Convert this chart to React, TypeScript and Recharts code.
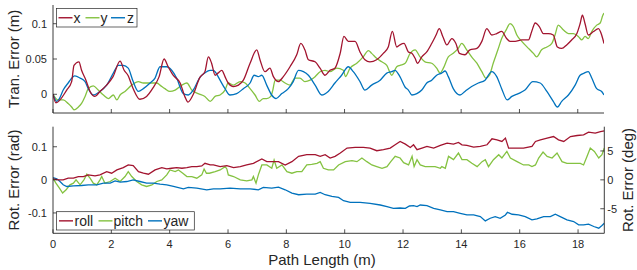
import React from 'react';
import { LineChart, Line, XAxis, YAxis } from 'recharts';

// ---------- axis ticks ----------
const pathTicks = [0, 2, 4, 6, 8, 10, 12, 14, 16, 18];
const tranTicks = [0, 0.05, 0.1];
const rotRadTicks = [-0.1, 0, 0.1];
const rotDegTicks = [-5, 0, 5];

// ---------- series: [path length (m), value] ----------
const tranX: [number, number][] = [
  [0, 0], [0.10, -0.012], [0.47, 0.006], [0.64, 0.018], [0.72, 0.041], [0.89, 0.046], [0.98, 0.034], [1.13, 0.020], [1.27, 0.004], [1.44, -0.003], [1.61, 0.004], [1.84, 0.013], [2.06, 0.025], [2.30, 0.047], [2.44, 0.034], [2.57, 0.027], [2.74, 0.009], [2.98, -0.007], [3.21, -0.003], [3.43, 0.009], [3.64, 0.025], [3.81, 0.050], [3.95, 0.039], [4.12, 0.027], [4.36, 0.016], [4.53, -0.004], [4.63, -0.011], [4.80, -0.001], [5.04, 0.024], [5.21, 0.032], [5.33, 0.053], [5.44, 0.044], [5.56, 0.027], [5.66, 0.030], [5.79, 0.034], [5.90, 0.025], [6.01, 0.016], [6.19, 0.011], [6.36, 0.013], [6.53, 0.020], [6.76, 0.044], [6.99, 0.063], [7.10, 0.049], [7.27, 0.032], [7.44, 0.037], [7.56, 0.025], [7.73, 0.018], [7.90, 0.025], [8.13, 0.039], [8.36, 0.056], [8.50, 0.072], [8.64, 0.063], [8.76, 0.049], [8.99, 0.046], [9.16, 0.037], [9.33, 0.027], [9.50, 0.034], [9.67, 0.037], [9.85, 0.058], [9.98, 0.082], [10.13, 0.075], [10.36, 0.075], [10.53, 0.060], [10.70, 0.049], [10.87, 0.046], [11.10, 0.049], [11.33, 0.058], [11.50, 0.067], [11.64, 0.089], [11.79, 0.067], [11.90, 0.070], [12.04, 0.072], [12.19, 0.060], [12.31, 0.058], [12.42, 0.051], [12.50, 0.044], [12.65, 0.053], [12.82, 0.060], [12.99, 0.072], [13.14, 0.084], [13.25, 0.093], [13.37, 0.082], [13.51, 0.070], [13.68, 0.079], [13.82, 0.072], [13.94, 0.058], [14.13, 0.056], [14.30, 0.063], [14.54, 0.065], [14.71, 0.075], [14.88, 0.093], [15.05, 0.084], [15.22, 0.086], [15.39, 0.089], [15.56, 0.079], [15.68, 0.075], [15.85, 0.075], [16.08, 0.077], [16.31, 0.077], [16.42, 0.089], [16.54, 0.101], [16.68, 0.096], [16.82, 0.086], [16.99, 0.086], [17.16, 0.084], [17.30, 0.067], [17.45, 0.065], [17.62, 0.070], [17.79, 0.077], [17.97, 0.086], [18.08, 0.100], [18.16, 0.112], [18.25, 0.100], [18.36, 0.084], [18.54, 0.089], [18.71, 0.093], [18.82, 0.084], [18.90, 0.072],
];

const tranY: [number, number][] = [
  [0, 0], [0.17, -0.008], [0.35, -0.008], [0.52, -0.013], [0.64, -0.018], [0.72, -0.022], [0.87, -0.018], [0.98, -0.013], [1.10, -0.003], [1.21, 0.008], [1.38, 0.012], [1.55, 0.006], [1.73, -0.001], [1.90, -0.006], [2.07, -0.001], [2.19, -0.008], [2.30, -0.001], [2.47, 0.004], [2.70, 0.013], [2.93, 0.018], [3.10, 0.016], [3.33, 0.016], [3.56, 0.016], [3.67, 0.013], [3.84, 0.008], [4.01, 0.004], [4.19, 0.006], [4.42, 0.013], [4.59, 0.016], [4.76, 0.006], [4.98, 0.001], [5.21, -0.003], [5.39, -0.010], [5.56, -0.003], [5.73, -0.001], [5.90, 0.006], [6.01, 0.016], [6.19, 0.013], [6.42, 0.018], [6.59, 0.016], [6.76, 0.008], [6.93, -0.001], [7.08, -0.010], [7.21, -0.006], [7.33, -0.006], [7.47, -0.003], [7.54, 0.006], [7.62, 0.020], [7.79, 0.020], [7.96, 0.016], [8.13, 0.013], [8.30, 0.023], [8.47, 0.023], [8.64, 0.018], [8.82, 0.020], [8.99, 0.025], [9.16, 0.032], [9.33, 0.034], [9.50, 0.032], [9.73, 0.037], [9.96, 0.034], [10.03, 0.025], [10.19, 0.037], [10.42, 0.044], [10.64, 0.053], [10.82, 0.062], [10.93, 0.058], [11.10, 0.051], [11.28, 0.046], [11.45, 0.041], [11.62, 0.027], [11.79, 0.039], [11.90, 0.041], [12.08, 0.044], [12.25, 0.058], [12.42, 0.063], [12.59, 0.053], [12.76, 0.046], [12.99, 0.044], [13.16, 0.037], [13.28, 0.030], [13.39, 0.037], [13.56, 0.053], [13.73, 0.058], [13.90, 0.065], [14.02, 0.072], [14.19, 0.063], [14.36, 0.053], [14.54, 0.044], [14.71, 0.032], [14.85, 0.023], [14.97, 0.027], [15.10, 0.044], [15.26, 0.063], [15.39, 0.079], [15.54, 0.091], [15.68, 0.100], [15.79, 0.096], [15.91, 0.084], [16.08, 0.075], [16.31, 0.065], [16.48, 0.058], [16.59, 0.053], [16.76, 0.063], [16.94, 0.067], [17.11, 0.072], [17.22, 0.084], [17.33, 0.098], [17.51, 0.091], [17.68, 0.086], [17.85, 0.086], [18.02, 0.082], [18.14, 0.077], [18.25, 0.082], [18.36, 0.079], [18.48, 0.089], [18.65, 0.098], [18.77, 0.101], [18.86, 0.112], [18.90, 0.115],
];

const tranZ: [number, number][] = [
  [0, 0], [0.13, -0.010], [0.22, -0.006], [0.35, 0.006], [0.52, 0.016], [0.75, 0.026], [0.93, 0.023], [1.10, 0.018], [1.21, 0.008], [1.38, -0.001], [1.61, 0.004], [1.84, 0.013], [2.07, 0.030], [2.24, 0.041], [2.41, 0.041], [2.58, 0.037], [2.75, 0.018], [2.93, 0.004], [3.10, 0.008], [3.33, 0.016], [3.50, 0.023], [3.67, 0.039], [3.90, 0.039], [4.07, 0.034], [4.24, 0.023], [4.47, 0.001], [4.64, -0.001], [4.81, 0.006], [5.04, 0.024], [5.27, 0.032], [5.39, 0.034], [5.50, 0.034], [5.56, 0.032], [5.73, 0.020], [5.90, 0.008], [6.07, -0.001], [6.30, 0.001], [6.53, 0.008], [6.76, 0.016], [6.90, 0.027], [7.04, 0.025], [7.16, 0.027], [7.33, 0.013], [7.50, -0.001], [7.65, -0.006], [7.85, 0.001], [8.07, 0.008], [8.24, 0.018], [8.42, 0.034], [8.59, 0.032], [8.76, 0.027], [8.99, 0.013], [9.22, -0.001], [9.44, 0.004], [9.67, 0.016], [9.90, 0.027], [10.13, 0.039], [10.30, 0.032], [10.53, 0.018], [10.70, 0.006], [10.93, 0.013], [11.22, 0.020], [11.45, 0.030], [11.62, 0.032], [11.73, 0.034], [11.90, 0.025], [12.08, 0.010], [12.19, 0.006], [12.31, -0.001], [12.48, 0.001], [12.65, 0.006], [12.82, 0.016], [12.99, 0.020], [13.16, 0.027], [13.33, 0.030], [13.45, 0.033], [13.56, 0.025], [13.73, 0.008], [13.96, -0.001], [14.13, 0.004], [14.36, 0.011], [14.59, 0.016], [14.82, 0.020], [15.05, 0.032], [15.22, 0.025], [15.39, 0.008], [15.58, -0.008], [15.74, -0.003], [15.96, 0.001], [16.19, 0.006], [16.46, 0.018], [16.71, 0.016], [16.94, 0.004], [17.16, -0.010], [17.30, -0.018], [17.45, -0.010], [17.68, -0.001], [17.91, 0.013], [18.08, 0.027], [18.22, 0.030], [18.36, 0.032], [18.48, 0.023], [18.65, 0.008], [18.82, 0.004], [18.90, -0.001],
];

const rotRoll: [number, number][] = [
  [0, 0.003], [0.18, 0], [0.35, 0], [0.52, 0.005], [0.70, 0.005], [0.87, 0.010], [1.04, 0.010], [1.21, 0.015], [1.44, 0.012], [1.61, 0.015], [1.84, 0.025], [2.01, 0.020], [2.19, 0.030], [2.41, 0.037], [2.58, 0.045], [2.75, 0.043], [2.93, 0.025], [3.10, 0.020], [3.27, 0.017], [3.50, 0.030], [3.73, 0.037], [3.90, 0.033], [4.07, 0.035], [4.24, 0.037], [4.42, 0.035], [4.59, 0.037], [4.76, 0.040], [4.93, 0.040], [5.10, 0.042], [5.21, 0.050], [5.39, 0.045], [5.50, 0.045], [5.73, 0.040], [5.96, 0.043], [6.19, 0.037], [6.42, 0.040], [6.64, 0.045], [6.87, 0.050], [7.16, 0.063], [7.33, 0.055], [7.50, 0.055], [7.73, 0.055], [7.96, 0.045], [8.19, 0.055], [8.42, 0.071], [8.70, 0.076], [8.99, 0.076], [9.16, 0.071], [9.33, 0.076], [9.50, 0.066], [9.67, 0.071], [9.85, 0.081], [10.08, 0.096], [10.36, 0.098], [10.64, 0.098], [10.87, 0.096], [11.10, 0.088], [11.33, 0.091], [11.56, 0.096], [11.73, 0.106], [11.90, 0.116], [12.08, 0.108], [12.25, 0.098], [12.36, 0.106], [12.48, 0.091], [12.65, 0.096], [12.82, 0.101], [13.05, 0.096], [13.28, 0.104], [13.51, 0.111], [13.73, 0.108], [13.90, 0.113], [14.02, 0.106], [14.19, 0.104], [14.42, 0.099], [14.65, 0.101], [14.88, 0.106], [15.05, 0.124], [15.22, 0.121], [15.39, 0.116], [15.51, 0.126], [15.62, 0.096], [15.85, 0.096], [16.13, 0.096], [16.42, 0.101], [16.54, 0.116], [16.71, 0.121], [16.94, 0.126], [17.16, 0.131], [17.33, 0.121], [17.51, 0.116], [17.74, 0.131], [17.97, 0.134], [18.19, 0.136], [18.36, 0.144], [18.59, 0.141], [18.77, 0.146], [18.90, 0.148],
];

const rotPitch: [number, number][] = [
  [0, 0.005], [0.10, -0.010], [0.22, -0.025], [0.33, -0.040], [0.45, -0.030], [0.58, -0.015], [0.70, -0.010], [0.79, 0], [0.93, -0.015], [1.06, 0], [1.16, 0.017], [1.27, 0.005], [1.38, -0.010], [1.50, -0.015], [1.61, 0], [1.67, 0.010], [1.78, -0.010], [1.96, -0.005], [2.13, 0.005], [2.30, -0.005], [2.47, 0.010], [2.58, 0.025], [2.70, 0.010], [2.87, -0.005], [3.04, -0.015], [3.21, -0.020], [3.39, -0.015], [3.56, -0.005], [3.73, 0], [3.90, 0.015], [4.01, 0.030], [4.19, 0.025], [4.30, 0.030], [4.45, 0.020], [4.59, 0.010], [4.76, 0.010], [4.93, 0.005], [5.10, 0.015], [5.18, 0.033], [5.26, 0.020], [5.36, 0.020], [5.56, 0.025], [5.73, 0.030], [5.90, 0.040], [5.96, 0.033], [6.01, 0.015], [6.19, 0.010], [6.42, 0], [6.64, -0.003], [6.82, 0], [6.87, 0.010], [6.96, -0.010], [7.04, 0.015], [7.16, 0.045], [7.33, 0.045], [7.50, 0.035], [7.58, 0.060], [7.67, 0.035], [7.85, 0.045], [8.02, 0.025], [8.19, 0.020], [8.36, 0.025], [8.53, 0.025], [8.70, 0.045], [8.87, 0.047], [9.05, 0.050], [9.16, 0.055], [9.27, 0.035], [9.44, 0.030], [9.62, 0.030], [9.79, 0.045], [10.02, 0.055], [10.25, 0.058], [10.42, 0.055], [10.59, 0.066], [10.76, 0.055], [10.93, 0.045], [11.10, 0.040], [11.28, 0.035], [11.45, 0.040], [11.58, 0.055], [11.73, 0.071], [11.90, 0.066], [12.02, 0.052], [12.19, 0.045], [12.31, 0.071], [12.38, 0.040], [12.48, 0.061], [12.59, 0.045], [12.76, 0.040], [12.93, 0.040], [13.10, 0.040], [13.28, 0.035], [13.33, 0.040], [13.45, 0.035], [13.56, 0.071], [13.73, 0.061], [13.90, 0.081], [14.02, 0.061], [14.19, 0.061], [14.36, 0.050], [14.54, 0.040], [14.71, 0.055], [14.82, 0.061], [14.93, 0.040], [15.10, 0.061], [15.28, 0.076], [15.39, 0.066], [15.56, 0.086], [15.68, 0.066], [15.91, 0.055], [16.13, 0.045], [16.31, 0.045], [16.42, 0.040], [16.54, 0.045], [16.65, 0.066], [16.80, 0.084], [16.94, 0.071], [17.11, 0.066], [17.28, 0.081], [17.45, 0.055], [17.62, 0.050], [17.85, 0.050], [18.08, 0.050], [18.19, 0.045], [18.31, 0.071], [18.42, 0.096], [18.56, 0.086], [18.71, 0.066], [18.82, 0.076], [18.90, 0.096],
];

const rotYaw: [number, number][] = [
  [0, 0.007], [0.13, 0.003], [0.24, -0.005], [0.35, -0.015], [0.47, -0.020], [0.70, -0.018], [0.98, -0.017], [1.21, -0.015], [1.50, -0.015], [1.73, -0.010], [1.96, -0.010], [2.13, -0.003], [2.30, -0.007], [2.53, -0.005], [2.75, 0], [2.98, -0.005], [3.21, -0.010], [3.44, -0.010], [3.67, -0.013], [3.90, -0.015], [4.13, -0.020], [4.47, -0.027], [4.64, -0.023], [4.93, -0.025], [5.27, -0.030], [5.50, -0.027], [5.73, -0.027], [6.07, -0.025], [6.42, -0.027], [6.76, -0.027], [7.04, -0.030], [7.21, -0.023], [7.50, -0.025], [7.73, -0.022], [7.96, -0.030], [8.19, -0.040], [8.42, -0.045], [8.70, -0.043], [8.99, -0.043], [9.16, -0.038], [9.33, -0.045], [9.56, -0.050], [9.79, -0.053], [9.96, -0.063], [10.19, -0.068], [10.53, -0.068], [10.87, -0.071], [11.22, -0.076], [11.45, -0.081], [11.67, -0.086], [11.90, -0.085], [12.08, -0.086], [12.22, -0.079], [12.36, -0.078], [12.48, -0.081], [12.59, -0.076], [12.82, -0.078], [13.05, -0.086], [13.28, -0.091], [13.51, -0.096], [13.73, -0.096], [13.96, -0.101], [14.19, -0.106], [14.42, -0.106], [14.65, -0.111], [14.82, -0.124], [14.99, -0.116], [15.16, -0.111], [15.33, -0.116], [15.51, -0.106], [15.58, -0.098], [15.74, -0.104], [15.96, -0.106], [16.19, -0.111], [16.42, -0.121], [16.59, -0.118], [16.82, -0.111], [17.05, -0.111], [17.22, -0.104], [17.39, -0.111], [17.62, -0.121], [17.85, -0.126], [18.02, -0.136], [18.19, -0.136], [18.36, -0.134], [18.54, -0.141], [18.71, -0.146], [18.82, -0.138], [18.90, -0.131],
];

// ---------- styling ----------
const FONT = '"Liberation Sans", Arial, Helvetica, sans-serif';
const INK = '#262626';
const RED = '#A2142F';
const GREEN = '#84C241';
const BLUE = '#0072BD';
const LW = 1.3;

const pts = (arr: [number, number][]) => arr.map(([m, v]) => ({ m, v }));

const fmt = (v: number) => String(Math.round(v * 1000) / 1000);

const BottomTick = (showLabel: boolean) => (props: any) => {
  const { x, y, payload } = props;
  return (
    <g>
      <line x1={x} x2={x} y1={y} y2={y - 4} stroke={INK} strokeWidth={0.8} />
      {showLabel && (
        <text x={x} y={y + 11} dy="0.35em" textAnchor="middle" fontSize={11} fill={INK} fontFamily={FONT}>
          {fmt(payload.value)}
        </text>
      )}
    </g>
  );
};

const LeftTick = (props: any) => {
  const { x, y, payload } = props;
  return (
    <g>
      <line x1={x} x2={x + 4} y1={y} y2={y} stroke={INK} strokeWidth={0.8} />
      <text x={x - 6} y={y} dy="0.35em" textAnchor="end" fontSize={11} fill={INK} fontFamily={FONT}>
        {fmt(payload.value)}
      </text>
    </g>
  );
};

const RightTick = (props: any) => {
  const { x, y, payload } = props;
  return (
    <g>
      <line x1={x} x2={x - 4} y1={y} y2={y} stroke={INK} strokeWidth={0.8} />
      <text x={x + 3} y={y} dy="0.35em" textAnchor="start" fontSize={11} fill={INK} fontFamily={FONT}>
        {fmt(payload.value)}
      </text>
    </g>
  );
};

const LegendBox = ({ x, y, w, h, items }: { x: number; y: number; w: number; h: number; items: { label: string; color: string; lx: number; tx: number }[] }) => (
  <g>
    <rect x={x} y={y} width={w} height={h} fill="#fff" stroke={INK} strokeWidth={0.7} />
    {items.map((it) => (
      <g key={it.label}>
        <line x1={it.lx} x2={it.lx + 14} y1={y + h / 2} y2={y + h / 2} stroke={it.color} strokeWidth={1.4} />
        <text x={it.tx} y={y + h / 2} dy="0.35em" fontSize={14} fill={INK} fontFamily={FONT}>
          {it.label}
        </text>
      </g>
    ))}
  </g>
);

export default function App() {
  return (
    <div style={{ position: 'absolute', left: 0, top: 0, width: 637, height: 270, background: '#fff', fontFamily: FONT }}>
      <div style={{ position: 'absolute', left: 0, top: 0 }}>
        <LineChart width={637} height={120} margin={{ top: 5, right: 33, bottom: 0, left: 0 }}>
          <XAxis
            dataKey="m"
            type="number"
            domain={[0, 18.9]}
            allowDataOverflow
            ticks={pathTicks}
            interval={0}
            height={7}
            tickSize={0}
            tickMargin={0}
            tickLine={false}
            tick={BottomTick(false)}
            axisLine={{ stroke: INK, strokeWidth: 0.9 }}
          />
          <YAxis
            type="number"
            domain={[-0.0265, 0.1265]}
            allowDataOverflow
            ticks={tranTicks}
            interval={0}
            width={53}
            tickSize={0}
            tickMargin={0}
            tickLine={false}
            tick={LeftTick}
            axisLine={{ stroke: INK, strokeWidth: 0.9 }}
          />
          <Line type="monotone" data={pts(tranY)} dataKey="v" stroke={GREEN} strokeWidth={LW} dot={false} isAnimationActive={false} />
          <Line type="monotone" data={pts(tranZ)} dataKey="v" stroke={BLUE} strokeWidth={LW} dot={false} isAnimationActive={false} />
          <Line type="monotone" data={pts(tranX)} dataKey="v" stroke={RED} strokeWidth={LW} dot={false} isAnimationActive={false} />
        </LineChart>
      </div>
      <div style={{ position: 'absolute', left: 0, top: 120 }}>
        <LineChart width={637} height={150} margin={{ top: 6.7, right: 0, bottom: 0, left: 0 }}>
          <XAxis
            dataKey="m"
            type="number"
            domain={[0, 18.9]}
            allowDataOverflow
            ticks={pathTicks}
            interval={0}
            height={36.7}
            tickSize={0}
            tickMargin={0}
            tickLine={false}
            tick={BottomTick(true)}
            axisLine={{ stroke: INK, strokeWidth: 0.9 }}
          />
          <YAxis
            yAxisId="rad"
            type="number"
            domain={[-0.1615, 0.1606]}
            allowDataOverflow
            ticks={rotRadTicks}
            interval={0}
            width={53}
            tickSize={0}
            tickMargin={0}
            tickLine={false}
            tick={LeftTick}
            axisLine={{ stroke: INK, strokeWidth: 0.9 }}
          />
          <YAxis
            yAxisId="deg"
            orientation="right"
            type="number"
            domain={[-9.25, 9.2]}
            allowDataOverflow
            ticks={rotDegTicks}
            interval={0}
            width={32.7}
            tickSize={0}
            tickMargin={0}
            tickLine={false}
            tick={RightTick}
            axisLine={{ stroke: INK, strokeWidth: 0.9 }}
          />
          <Line yAxisId="rad" data={pts(rotPitch)} dataKey="v" stroke={GREEN} strokeWidth={LW} dot={false} isAnimationActive={false} />
          <Line yAxisId="rad" data={pts(rotYaw)} dataKey="v" stroke={BLUE} strokeWidth={LW} dot={false} isAnimationActive={false} />
          <Line yAxisId="rad" data={pts(rotRoll)} dataKey="v" stroke={RED} strokeWidth={LW} dot={false} isAnimationActive={false} />
        </LineChart>
      </div>
      <svg width={637} height={270} style={{ position: 'absolute', left: 0, top: 0, pointerEvents: 'none' }}>
        <text x={14} y={59} dy="0.35em" transform="rotate(-90 14 59)" textAnchor="middle" fontSize={15} fill={INK} fontFamily={FONT}>
          Tran. Error (m)
        </text>
        <text x={14} y={180} dy="0.35em" transform="rotate(-90 14 180)" textAnchor="middle" fontSize={15} fill={INK} fontFamily={FONT}>
          Rot. Error (rad)
        </text>
        <text x={628} y={180} dy="0.35em" transform="rotate(-90 628 180)" textAnchor="middle" fontSize={15} fill={INK} fontFamily={FONT}>
          Rot. Error (deg)
        </text>
        <text x={322} y={260} dy="0.35em" textAnchor="middle" fontSize={15} fill={INK} fontFamily={FONT}>
          Path Length (m)
        </text>
        <LegendBox
          x={56.5}
          y={8.5}
          w={80.5}
          h={18.5}
          items={[
            { label: 'x', color: RED, lx: 58.5, tx: 73.5 },
            { label: 'y', color: GREEN, lx: 85.5, tx: 100.5 },
            { label: 'z', color: BLUE, lx: 111, tx: 127 },
          ]}
        />
        <LegendBox
          x={56.5}
          y={211.7}
          w={137.8}
          h={18.3}
          items={[
            { label: 'roll', color: RED, lx: 59, tx: 74.5 },
            { label: 'pitch', color: GREEN, lx: 98.5, tx: 113.5 },
            { label: 'yaw', color: BLUE, lx: 148, tx: 163.5 },
          ]}
        />
      </svg>
    </div>
  );
}
